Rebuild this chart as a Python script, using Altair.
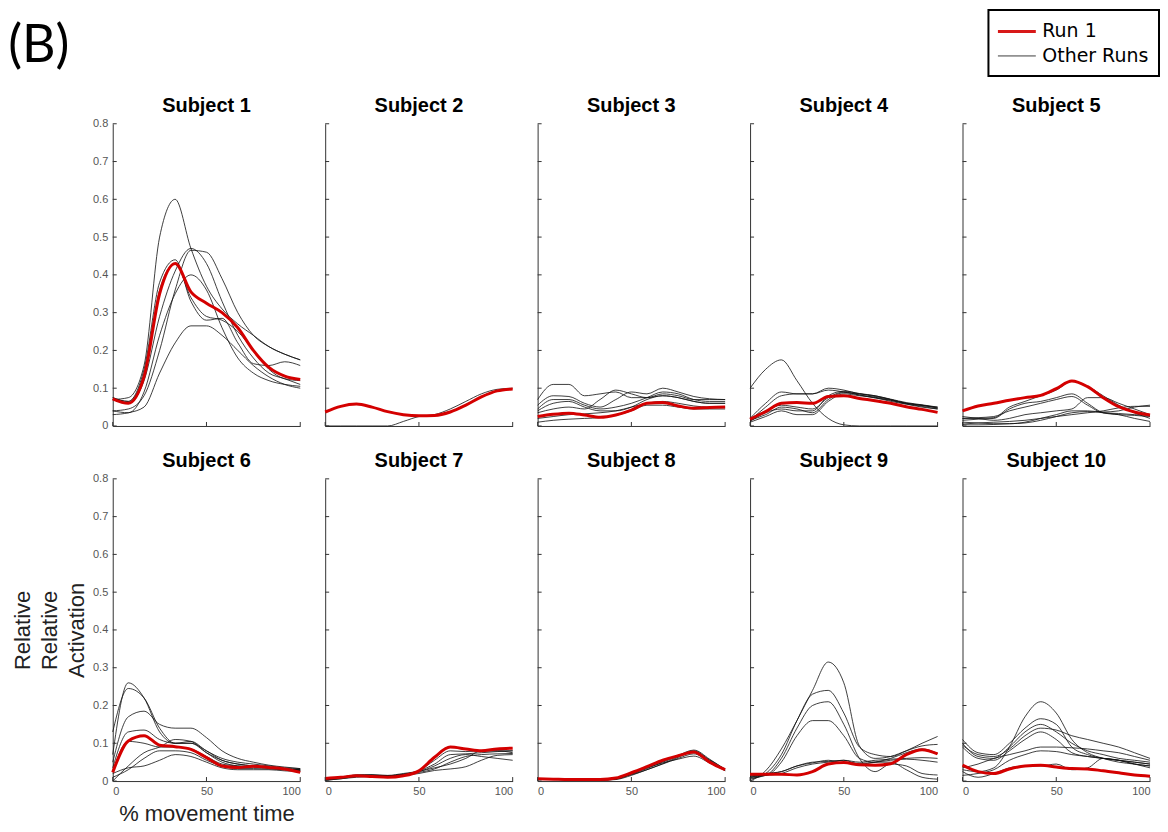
import altair as alt
import pandas as pd

# ---------------- data ----------------
X = [0, 8.3, 16.7, 25, 33.3, 41.7, 50, 58.3, 66.7, 75, 83.3, 91.7, 100]
YTICKS = [0, 0.1, 0.2, 0.3, 0.4, 0.5, 0.6, 0.7, 0.8]
XTICKS = [0, 50, 100]
SERIES = ["Run 1", "Other Runs"]
SERIES_COLORS = ["#d40000", "#111111"]
SERIES_WIDTHS = [3, 0.9]

S1_RUN1 = [0.072, 0.060, 0.13, 0.35, 0.43, 0.355, 0.325, 0.30, 0.26, 0.20, 0.155, 0.132, 0.123]
S1_OTHER = [
    [0.07, 0.075, 0.16, 0.50, 0.60, 0.47, 0.37, 0.31, 0.27, 0.24, 0.21, 0.19, 0.175],
    [0.04, 0.045, 0.08, 0.20, 0.36, 0.465, 0.46, 0.39, 0.30, 0.24, 0.21, 0.19, 0.175],
    [0.075, 0.065, 0.15, 0.38, 0.44, 0.33, 0.28, 0.285, 0.22, 0.165, 0.16, 0.17, 0.16],
    [0.04, 0.035, 0.09, 0.24, 0.35, 0.40, 0.36, 0.26, 0.18, 0.14, 0.12, 0.11, 0.105],
    [0.03, 0.035, 0.05, 0.14, 0.22, 0.265, 0.265, 0.24, 0.20, 0.16, 0.13, 0.11, 0.10],
    [0.07, 0.06, 0.12, 0.29, 0.41, 0.47, 0.43, 0.33, 0.24, 0.18, 0.14, 0.125, 0.11],
    [0.075, 0.065, 0.14, 0.36, 0.43, 0.34, 0.29, 0.28, 0.25, 0.20, 0.15, 0.125, 0.12],
]
S2_RUN1 = [0.037, 0.052, 0.058, 0.05, 0.038, 0.03, 0.027, 0.028, 0.037, 0.055, 0.077, 0.093, 0.098]
S2_OTHER = [
    [0.0, 0.0, 0.0, 0.0, 0.0, 0.012, 0.025, 0.03, 0.045, 0.065, 0.085, 0.097, 0.1],
]
S3_RUN1 = [0.025, 0.031, 0.034, 0.029, 0.023, 0.029, 0.042, 0.06, 0.062, 0.053, 0.047, 0.049, 0.05]
S3_OTHER = [
    [0.07, 0.11, 0.11, 0.08, 0.085, 0.09, 0.075, 0.075, 0.085, 0.08, 0.07, 0.07, 0.07],
    [0.055, 0.08, 0.078, 0.06, 0.05, 0.07, 0.09, 0.085, 0.10, 0.09, 0.078, 0.072, 0.07],
    [0.045, 0.07, 0.07, 0.055, 0.045, 0.05, 0.06, 0.075, 0.09, 0.085, 0.07, 0.065, 0.065],
    [0.04, 0.06, 0.065, 0.05, 0.04, 0.04, 0.05, 0.07, 0.08, 0.075, 0.065, 0.06, 0.06],
    [0.035, 0.045, 0.05, 0.045, 0.07, 0.095, 0.085, 0.075, 0.08, 0.075, 0.065, 0.06, 0.06],
    [0.02, 0.025, 0.03, 0.032, 0.035, 0.04, 0.05, 0.06, 0.065, 0.06, 0.053, 0.05, 0.05],
    [0.01, 0.015, 0.018, 0.02, 0.022, 0.028, 0.04, 0.055, 0.055, 0.05, 0.045, 0.045, 0.045],
]
S4_RUN1 = [0.018, 0.038, 0.06, 0.062, 0.06, 0.078, 0.08, 0.073, 0.067, 0.06, 0.051, 0.044, 0.036]
S4_OTHER = [
    [0.10, 0.15, 0.175, 0.12, 0.06, 0.02, 0.003, 0.0, 0.0, 0.0, 0.0, 0.0, 0.0],
    [0.02, 0.06, 0.09, 0.085, 0.085, 0.10, 0.095, 0.085, 0.08, 0.07, 0.06, 0.055, 0.048],
    [0.015, 0.05, 0.08, 0.085, 0.085, 0.095, 0.09, 0.082, 0.076, 0.068, 0.058, 0.05, 0.045],
    [0.015, 0.03, 0.05, 0.045, 0.035, 0.07, 0.088, 0.085, 0.078, 0.07, 0.06, 0.055, 0.047],
    [0.01, 0.025, 0.04, 0.03, 0.03, 0.065, 0.085, 0.08, 0.075, 0.065, 0.058, 0.052, 0.045],
    [0.02, 0.04, 0.055, 0.05, 0.045, 0.075, 0.09, 0.082, 0.074, 0.068, 0.06, 0.054, 0.05],
    [0.012, 0.035, 0.045, 0.04, 0.04, 0.08, 0.092, 0.086, 0.08, 0.071, 0.062, 0.056, 0.05],
]
S5_RUN1 = [0.04, 0.053, 0.06, 0.068, 0.075, 0.081, 0.099, 0.119, 0.104, 0.075, 0.051, 0.037, 0.029]
S5_OTHER = [
    [0.02, 0.02, 0.022, 0.05, 0.065, 0.08, 0.095, 0.118, 0.105, 0.08, 0.055, 0.035, 0.02],
    [0.015, 0.018, 0.02, 0.045, 0.06, 0.065, 0.075, 0.085, 0.06, 0.035, 0.03, 0.028, 0.025],
    [0.02, 0.022, 0.025, 0.04, 0.05, 0.06, 0.07, 0.078, 0.055, 0.035, 0.033, 0.03, 0.028],
    [0.005, 0.008, 0.01, 0.012, 0.015, 0.02, 0.025, 0.03, 0.035, 0.04, 0.048, 0.052, 0.052],
    [0.003, 0.003, 0.004, 0.006, 0.008, 0.015, 0.025, 0.035, 0.038, 0.035, 0.03, 0.02, 0.012],
    [0.025, 0.02, 0.015, 0.02, 0.03, 0.035, 0.04, 0.045, 0.075, 0.075, 0.06, 0.045, 0.03],
    [0.01, 0.008, 0.006, 0.006, 0.01, 0.02, 0.03, 0.04, 0.04, 0.037, 0.04, 0.05, 0.055],
]
S6_RUN1 = [0.023, 0.106, 0.12, 0.095, 0.091, 0.084, 0.062, 0.04, 0.036, 0.039, 0.036, 0.032, 0.023]
S6_OTHER = [
    [0.07, 0.26, 0.22, 0.13, 0.10, 0.10, 0.075, 0.055, 0.045, 0.04, 0.035, 0.032, 0.03],
    [0.13, 0.245, 0.22, 0.14, 0.10, 0.105, 0.08, 0.06, 0.05, 0.045, 0.04, 0.035, 0.033],
    [0.05, 0.17, 0.185, 0.15, 0.14, 0.14, 0.115, 0.08, 0.06, 0.05, 0.042, 0.037, 0.033],
    [0.035, 0.13, 0.135, 0.11, 0.10, 0.10, 0.08, 0.055, 0.045, 0.04, 0.036, 0.032, 0.03],
    [0.025, 0.105, 0.10, 0.09, 0.09, 0.085, 0.065, 0.045, 0.04, 0.038, 0.035, 0.032, 0.03],
    [0.0, 0.04, 0.075, 0.09, 0.11, 0.105, 0.075, 0.05, 0.04, 0.037, 0.034, 0.03, 0.028],
    [0.02, 0.035, 0.04, 0.055, 0.07, 0.065, 0.05, 0.035, 0.03, 0.03, 0.03, 0.027, 0.025],
    [0.01, 0.03, 0.06, 0.08, 0.08, 0.075, 0.055, 0.04, 0.033, 0.033, 0.032, 0.03, 0.028],
]
S7_RUN1 = [0.007, 0.01, 0.014, 0.012, 0.01, 0.014, 0.027, 0.063, 0.09, 0.085, 0.08, 0.085, 0.087]
S7_OTHER = [
    [0.005, 0.01, 0.015, 0.015, 0.012, 0.015, 0.027, 0.055, 0.08, 0.078, 0.08, 0.08, 0.08],
    [0.003, 0.008, 0.016, 0.016, 0.014, 0.018, 0.027, 0.045, 0.07, 0.072, 0.075, 0.078, 0.08],
    [0.002, 0.006, 0.012, 0.015, 0.014, 0.018, 0.025, 0.04, 0.06, 0.07, 0.065, 0.06, 0.055],
    [0.004, 0.009, 0.013, 0.014, 0.014, 0.017, 0.023, 0.032, 0.05, 0.065, 0.07, 0.072, 0.073],
    [0.002, 0.006, 0.01, 0.012, 0.012, 0.015, 0.02, 0.028, 0.032, 0.038, 0.055, 0.068, 0.07],
    [0.005, 0.01, 0.016, 0.017, 0.015, 0.02, 0.026, 0.035, 0.045, 0.06, 0.08, 0.08, 0.075],
]
S8_RUN1 = [0.006, 0.005, 0.004, 0.004, 0.004, 0.008, 0.022, 0.038, 0.055, 0.067, 0.077, 0.05, 0.03]
S8_OTHER = [
    [0.005, 0.004, 0.003, 0.003, 0.003, 0.006, 0.018, 0.033, 0.05, 0.065, 0.08, 0.055, 0.028],
    [0.004, 0.004, 0.003, 0.002, 0.002, 0.004, 0.015, 0.03, 0.045, 0.06, 0.072, 0.05, 0.027],
    [0.006, 0.005, 0.004, 0.003, 0.003, 0.005, 0.02, 0.036, 0.052, 0.068, 0.082, 0.058, 0.03],
    [0.005, 0.005, 0.004, 0.004, 0.003, 0.007, 0.02, 0.035, 0.048, 0.058, 0.066, 0.048, 0.029],
    [0.004, 0.004, 0.004, 0.003, 0.003, 0.006, 0.017, 0.03, 0.046, 0.063, 0.078, 0.056, 0.032],
]
S9_RUN1 = [0.018, 0.018, 0.018, 0.016, 0.025, 0.045, 0.049, 0.043, 0.042, 0.046, 0.07, 0.083, 0.072]
S9_OTHER = [
    [0.0, 0.027, 0.085, 0.16, 0.24, 0.315, 0.26, 0.093, 0.06, 0.065, 0.08, 0.093, 0.097],
    [0.005, 0.02, 0.07, 0.16, 0.23, 0.24, 0.18, 0.09, 0.07, 0.065, 0.08, 0.10, 0.118],
    [0.008, 0.015, 0.06, 0.14, 0.20, 0.21, 0.15, 0.06, 0.025, 0.045, 0.04, 0.02, 0.016],
    [0.015, 0.015, 0.05, 0.12, 0.16, 0.16, 0.12, 0.06, 0.05, 0.05, 0.03, 0.01, 0.005],
    [0.01, 0.015, 0.02, 0.035, 0.045, 0.05, 0.055, 0.045, 0.05, 0.06, 0.075, 0.085, 0.073],
    [0.012, 0.02, 0.025, 0.04, 0.05, 0.052, 0.055, 0.05, 0.055, 0.058, 0.06, 0.062, 0.06],
    [0.01, 0.018, 0.025, 0.04, 0.048, 0.055, 0.048, 0.047, 0.05, 0.055, 0.058, 0.055, 0.05],
]
S10_RUN1 = [0.042, 0.025, 0.02, 0.032, 0.04, 0.042, 0.037, 0.033, 0.032, 0.027, 0.022, 0.016, 0.013]
S10_OTHER = [
    [0.03, 0.025, 0.035, 0.09, 0.17, 0.21, 0.18, 0.11, 0.075, 0.06, 0.05, 0.045, 0.04],
    [0.11, 0.075, 0.07, 0.10, 0.14, 0.165, 0.15, 0.09, 0.07, 0.06, 0.055, 0.05, 0.045],
    [0.10, 0.065, 0.06, 0.09, 0.13, 0.15, 0.13, 0.10, 0.08, 0.07, 0.06, 0.055, 0.05],
    [0.095, 0.07, 0.065, 0.085, 0.12, 0.14, 0.135, 0.12, 0.11, 0.10, 0.09, 0.075, 0.06],
    [0.09, 0.06, 0.055, 0.08, 0.11, 0.13, 0.11, 0.075, 0.065, 0.06, 0.055, 0.05, 0.045],
    [0.035, 0.045, 0.06, 0.07, 0.08, 0.09, 0.09, 0.088, 0.085, 0.08, 0.075, 0.065, 0.055],
    [0.015, 0.02, 0.03, 0.055, 0.07, 0.08, 0.078, 0.07, 0.065, 0.06, 0.055, 0.045, 0.04],
    [0.025, 0.01, 0.02, 0.035, 0.04, 0.04, 0.045, 0.03, 0.035, 0.06, 0.055, 0.045, 0.035],
]

RUN1 = [S1_RUN1, S2_RUN1, S3_RUN1, S4_RUN1, S5_RUN1, S6_RUN1, S7_RUN1, S8_RUN1, S9_RUN1, S10_RUN1]
OTHER = [S1_OTHER, S2_OTHER, S3_OTHER, S4_OTHER, S5_OTHER, S6_OTHER, S7_OTHER, S8_OTHER, S9_OTHER, S10_OTHER]

rows = []
for si in range(10):
    for xv, yv in zip(X, RUN1[si]):
        rows.append({"subject": si + 1, "run": "r1", "series": "Run 1", "x": xv, "y": yv})
    for ri, curve in enumerate(OTHER[si]):
        for xv, yv in zip(X, curve):
            rows.append({"subject": si + 1, "run": f"r{ri + 2}", "series": "Other Runs", "x": xv, "y": yv})
df = pd.DataFrame(rows)
ytick_df = pd.DataFrame({"t": YTICKS})
xtick_df = pd.DataFrame({"t": XTICKS})

# ---------------- styling ----------------
W, H = 188, 303
AX = "#333333"
LBL = "#555555"
FONT = "Liberation Sans"
xscale = alt.Scale(domain=[0, 100], nice=False, zero=False)
yscale = alt.Scale(domain=[0, 0.8], nice=False)

legend = alt.Legend(
    orient="none", legendX=878, legendY=-114, title=None,
    symbolType="M-1.9,0L1.9,0", symbolSize=400, symbolOffset=7,
    labelOffset=14, labelFont="DejaVu Sans", labelFontSize=19, labelColor="black",
    labelLimit=300, padding=10, rowPadding=3.5,
    strokeColor="black", fillColor="white",
)
color_enc = alt.Color("series:N", scale=alt.Scale(domain=SERIES, range=SERIES_COLORS), legend=legend)
width_enc = alt.StrokeWidth("series:N", scale=alt.Scale(domain=SERIES, range=SERIES_WIDTHS), legend=legend)


def y_axis(col, row):
    # every panel keeps the same label extent (invisible off the first column)
    return alt.Axis(
        values=YTICKS, format=".1~f", ticks=False, grid=False, domainColor=AX,
        labelColor=LBL, labelFont=FONT, labelFontSize=11, labelPadding=5,
        labelOpacity=1 if col == 0 else 0,
        title=["Relative", "Relative", "Activation"] if col == 0 else None,
        titleFont=FONT, titleFontSize=22,
        titleFontWeight="normal", titleLineHeight=27, titleColor="#222222",
        titlePadding=4.5, titleOpacity=1 if row == 1 else 0,
    )


def x_axis(col, row):
    if row == 0:
        return alt.Axis(labels=False, ticks=False, grid=False, domainColor=AX, title=None)
    return alt.Axis(
        values=XTICKS, ticks=False, grid=False, domainColor=AX,
        labelColor=LBL, labelFont=FONT, labelFontSize=11, labelPadding=4,
        title="% movement time" if col == 0 else None, titleFont=FONT, titleFontSize=22,
        titleFontWeight="normal", titleColor="#222222", titlePadding=8,
    )


def panel(s):
    col, row = (s - 1) % 5, (s - 1) // 5
    xa, ya = x_axis(col, row), y_axis(col, row)
    base = alt.Chart(df).transform_filter(alt.datum.subject == s)
    others = base.transform_filter(alt.datum.series == "Other Runs").mark_line(
        interpolate="monotone", opacity=0.9
    ).encode(
        x=alt.X("x:Q", scale=xscale, axis=xa),
        y=alt.Y("y:Q", scale=yscale, axis=ya),
        detail="run:N", color=color_enc, strokeWidth=width_enc,
    )
    red = base.transform_filter(alt.datum.series == "Run 1").mark_line(
        interpolate="monotone"
    ).encode(
        x=alt.X("x:Q", scale=xscale, axis=xa),
        y=alt.Y("y:Q", scale=yscale, axis=ya),
        color=color_enc, strokeWidth=width_enc,
    )
    yt = alt.Chart(ytick_df).mark_rule(color=AX, strokeWidth=1).encode(
        y=alt.Y("t:Q", scale=yscale, axis=ya), x=alt.value(0), x2=alt.value(4)
    )
    xt = alt.Chart(xtick_df).mark_rule(color=AX, strokeWidth=1).encode(
        x=alt.X("t:Q", scale=xscale, axis=xa), y=alt.value(H), y2=alt.value(H - 4)
    )
    return alt.layer(others, red, yt, xt).properties(
        width=W, height=H,
        title=alt.TitleParams(f"Subject {s}", font=FONT, fontSize=20, fontWeight="bold",
                              color="black", anchor="middle", offset=2),
    )


row1 = alt.hconcat(*[panel(s) for s in range(1, 6)], spacing=25, bounds="flush")
row2 = alt.hconcat(*[panel(s) for s in range(6, 11)], spacing=25, bounds="flush")

chart = alt.vconcat(row1, row2, spacing=20).properties(
    title=alt.TitleParams("(B)", font="Lato", fontSize=52, fontWeight="normal",
                          color="black", anchor="start", frame="bounds", dx=-3,
                          baseline="alphabetic", offset=-105),
    padding={"left": 0, "top": 0, "right": 0, "bottom": 0},
).configure_view(stroke=None).configure_legend(strokeWidth=2)

chart.save("out.html", embed_options={"renderer": "svg", "actions": False})
